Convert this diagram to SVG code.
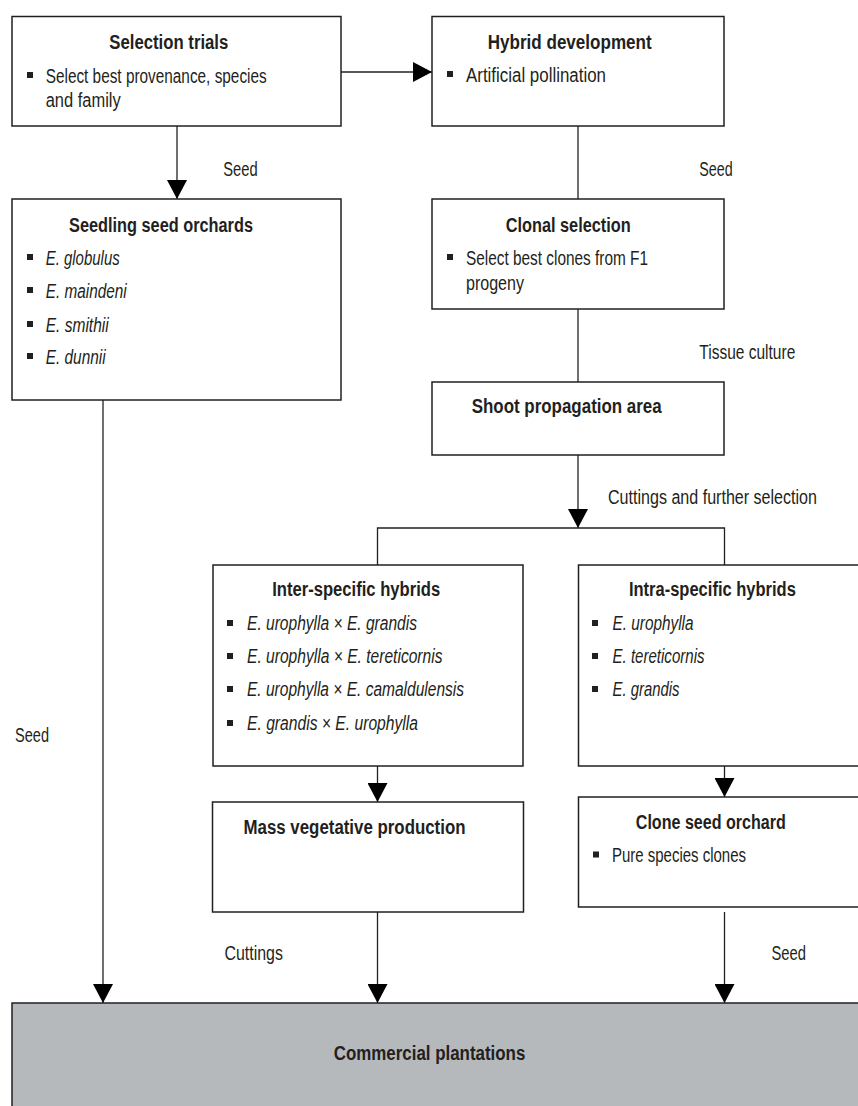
<svg xmlns="http://www.w3.org/2000/svg" width="858" height="1106" viewBox="0 0 858 1106">
<style>
.box{fill:#fff;stroke:#231f20;stroke-width:1.5}
.grey{fill:#b6b9bc;stroke:#231f20;stroke-width:1.5}
.ln{stroke:#231f20;stroke-width:1.3;fill:none}
text{font-family:"Liberation Sans Narrow","Liberation Sans",Arial,sans-serif;font-size:20px;fill:#231f20}
.t{font-weight:bold}
.i{font-style:italic}
.b{fill:#231f20}
</style>
<defs>
<marker id="ah" viewBox="0 0 19 20" refX="19" refY="10" markerWidth="19" markerHeight="20" orient="auto" markerUnits="userSpaceOnUse">
<path d="M0,0 L19,10 L0,20 z" fill="#000"/>
</marker>
</defs>
<g id="connectors">
<line class="ln" x1="341" y1="72" x2="432" y2="72" marker-end="url(#ah)"/>
<line class="ln" x1="177" y1="126" x2="177" y2="199" marker-end="url(#ah)"/>
<line class="ln" x1="578" y1="126" x2="578" y2="199"/>
<line class="ln" x1="578" y1="309" x2="578" y2="382"/>
<line class="ln" x1="578" y1="455" x2="578" y2="528" marker-end="url(#ah)"/>
<polyline class="ln" points="377.5,565 377.5,528 724.5,528 724.5,565"/>
<line class="ln" x1="377.5" y1="766" x2="377.5" y2="802" marker-end="url(#ah)"/>
<line class="ln" x1="724.5" y1="766" x2="724.5" y2="797" marker-end="url(#ah)"/>
<line class="ln" x1="103" y1="400" x2="103" y2="1003" marker-end="url(#ah)"/>
<line class="ln" x1="377.5" y1="912" x2="377.5" y2="1003" marker-end="url(#ah)"/>
<line class="ln" x1="724.5" y1="912" x2="724.5" y2="1003" marker-end="url(#ah)"/>
<text x="223.3" y="176" textLength="34.4" lengthAdjust="spacingAndGlyphs">Seed</text>
<text x="699.3" y="176" textLength="33.4" lengthAdjust="spacingAndGlyphs">Seed</text>
<text x="699.3" y="359" textLength="96" lengthAdjust="spacingAndGlyphs">Tissue culture</text>
<text x="608" y="504" textLength="209" lengthAdjust="spacingAndGlyphs">Cuttings and further selection</text>
<text x="15" y="742" textLength="34" lengthAdjust="spacingAndGlyphs">Seed</text>
<text x="224.4" y="960" textLength="58.5" lengthAdjust="spacingAndGlyphs">Cuttings</text>
<text x="771.5" y="960" textLength="34.5" lengthAdjust="spacingAndGlyphs">Seed</text>
</g>
<g id="selection-trials">
<rect class="box" x="12" y="16.5" width="329" height="109.5"/>
<text class="t" x="109.3" y="49" textLength="119" lengthAdjust="spacingAndGlyphs">Selection trials</text>
<rect class="b" x="27" y="72" width="6" height="6"/>
<text x="45.7" y="83" textLength="221" lengthAdjust="spacingAndGlyphs">Select best provenance, species</text>
<text x="45.7" y="107" textLength="75" lengthAdjust="spacingAndGlyphs">and family</text>
</g>
<g id="hybrid-development">
<rect class="box" x="432" y="16.5" width="292" height="109.5"/>
<text class="t" x="487.7" y="49" textLength="164" lengthAdjust="spacingAndGlyphs">Hybrid development</text>
<rect class="b" x="447" y="71" width="6" height="6"/>
<text x="466" y="82" textLength="140" lengthAdjust="spacingAndGlyphs">Artificial pollination</text>
</g>
<g id="seedling-seed-orchards">
<rect class="box" x="12" y="199" width="329" height="201"/>
<text class="t" x="69" y="232" textLength="184" lengthAdjust="spacingAndGlyphs">Seedling seed orchards</text>
<rect class="b" x="27" y="254" width="6" height="6"/>
<text class="i" x="45.7" y="265" textLength="74" lengthAdjust="spacingAndGlyphs">E. globulus</text>
<rect class="b" x="27" y="287" width="6" height="6"/>
<text class="i" x="45.7" y="298" textLength="81" lengthAdjust="spacingAndGlyphs">E. maindeni</text>
<rect class="b" x="27" y="321" width="6" height="6"/>
<text class="i" x="45.7" y="332" textLength="63" lengthAdjust="spacingAndGlyphs">E. smithii</text>
<rect class="b" x="27" y="353" width="6" height="6"/>
<text class="i" x="45.7" y="364" textLength="60" lengthAdjust="spacingAndGlyphs">E. dunnii</text>
</g>
<g id="clonal-selection">
<rect class="box" x="432" y="199" width="292" height="110"/>
<text class="t" x="505.7" y="232" textLength="125" lengthAdjust="spacingAndGlyphs">Clonal selection</text>
<rect class="b" x="447" y="254" width="6" height="6"/>
<text x="466" y="265" textLength="182" lengthAdjust="spacingAndGlyphs">Select best clones from F1</text>
<text x="466" y="290" textLength="58" lengthAdjust="spacingAndGlyphs">progeny</text>
</g>
<g id="shoot-propagation-area">
<rect class="box" x="432" y="382" width="292" height="73"/>
<text class="t" x="471.7" y="413" textLength="190" lengthAdjust="spacingAndGlyphs">Shoot propagation area</text>
</g>
<g id="inter-specific-hybrids">
<rect class="box" x="213" y="565" width="310" height="201"/>
<text class="t" x="272.2" y="596" textLength="168" lengthAdjust="spacingAndGlyphs">Inter-specific hybrids</text>
<rect class="b" x="227" y="620" width="6" height="6"/>
<text class="i" x="247" y="630" textLength="170" lengthAdjust="spacingAndGlyphs">E. urophylla × E. grandis</text>
<rect class="b" x="227" y="653" width="6" height="6"/>
<text class="i" x="247" y="663" textLength="195.5" lengthAdjust="spacingAndGlyphs">E. urophylla × E. tereticornis</text>
<rect class="b" x="227" y="686" width="6" height="6"/>
<text class="i" x="247" y="696" textLength="217" lengthAdjust="spacingAndGlyphs">E. urophylla × E. camaldulensis</text>
<rect class="b" x="227" y="720" width="6" height="6"/>
<text class="i" x="247" y="730" textLength="171" lengthAdjust="spacingAndGlyphs">E. grandis × E. urophylla</text>
</g>
<g id="intra-specific-hybrids">
<rect class="box" x="578.5" y="565" width="292" height="201"/>
<text class="t" x="628.9" y="596" textLength="167" lengthAdjust="spacingAndGlyphs">Intra-specific hybrids</text>
<rect class="b" x="592" y="620" width="6" height="6"/>
<text class="i" x="612.5" y="630" textLength="81" lengthAdjust="spacingAndGlyphs">E. urophylla</text>
<rect class="b" x="592" y="653" width="6" height="6"/>
<text class="i" x="612.5" y="663" textLength="92" lengthAdjust="spacingAndGlyphs">E. tereticornis</text>
<rect class="b" x="592" y="686" width="6" height="6"/>
<text class="i" x="612.5" y="696" textLength="67" lengthAdjust="spacingAndGlyphs">E. grandis</text>
</g>
<g id="mass-vegetative-production">
<rect class="box" x="212.5" y="802" width="311" height="110"/>
<text class="t" x="243.5" y="834" textLength="222" lengthAdjust="spacingAndGlyphs">Mass vegetative production</text>
</g>
<g id="clone-seed-orchard">
<rect class="box" x="578.5" y="797" width="292" height="110"/>
<text class="t" x="635.8" y="829" textLength="150" lengthAdjust="spacingAndGlyphs">Clone seed orchard</text>
<rect class="b" x="593" y="851.5" width="6" height="6"/>
<text x="612" y="862" textLength="134" lengthAdjust="spacingAndGlyphs">Pure species clones</text>
</g>
<g id="commercial-plantations">
<rect class="grey" x="12" y="1003" width="860" height="120"/>
<text class="t" x="333.8" y="1060" textLength="191.5" lengthAdjust="spacingAndGlyphs">Commercial plantations</text>
</g>
</svg>
